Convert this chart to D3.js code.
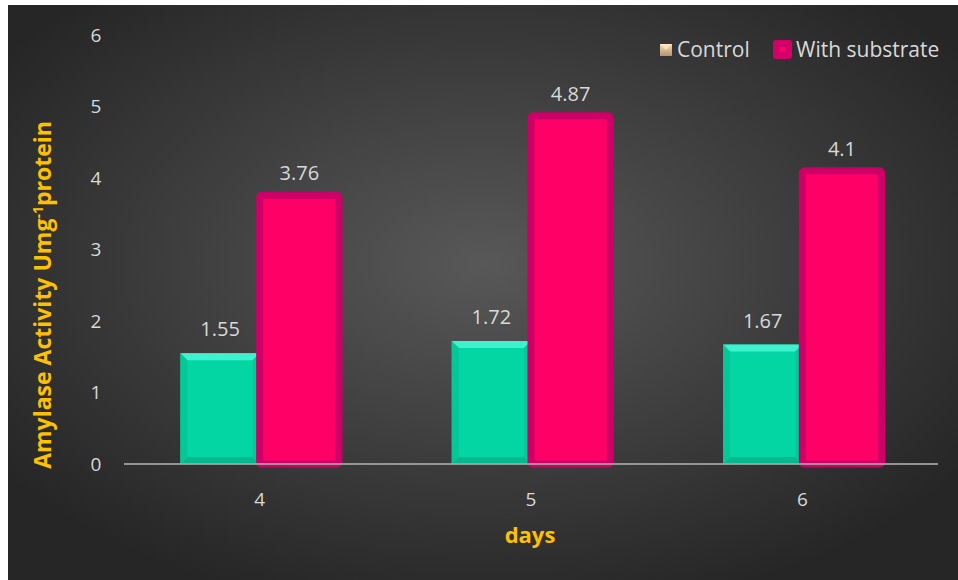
<!DOCTYPE html>
<html><head><meta charset="utf-8">
<script src="https://cdn.jsdelivr.net/npm/d3@7"></script>
<style>html,body{margin:0;padding:0;background:#fff;}svg{display:block;}</style>
</head><body>
<svg id="c" width="958" height="580"></svg>
<script>
const categories = ["4", "5", "6"];
const seriesNames = ["Control", "With substrate"];
const controlValues = [1.55, 1.72, 1.67];
const substrateValues = [3.76, 4.87, 4.1];
const yTicks = [0, 1, 2, 3, 4, 5, 6];

const W = 958, H = 580;
const svg = d3.select("#c");
const FONT = "'Open Sans', sans-serif";
const defs = svg.append("defs");
const rg = defs.append("radialGradient").attr("id","bg").attr("cx","50%").attr("cy","45%").attr("r","62%");
rg.append("stop").attr("offset","0%").attr("stop-color","#585858");
rg.append("stop").attr("offset","100%").attr("stop-color","#262626");
const lg = defs.append("linearGradient").attr("id","tan").attr("x1","0").attr("y1","0").attr("x2","0").attr("y2","1");
lg.append("stop").attr("offset","0%").attr("stop-color","#f2dcb8");
lg.append("stop").attr("offset","100%").attr("stop-color","#b8926a");

svg.append("rect").attr("x",8).attr("y",5).attr("width",W-8).attr("height",H-5).attr("fill","url(#bg)");

const x0 = d3.scaleBand().domain(categories).range([124, 938]).paddingInner(0).paddingOuter(0);
const x1 = d3.scaleBand().domain(seriesNames).range([0, x0.bandwidth()]).paddingInner(0).paddingOuter(0.712);
const y = d3.scaleLinear().domain([0, 6]).range([464, 35]);

// y tick labels
svg.append("g").selectAll("text").data(yTicks).join("text")
  .attr("x", 96).attr("y", d => y(d)).attr("dy","0.35em")
  .attr("text-anchor","middle").attr("fill","#d9d9d9")
  .style("font-family",FONT).style("font-size","19px").text(d => d);

// x tick labels
svg.append("g").selectAll("text").data(categories).join("text")
  .attr("x", d => x0(d) + x0.bandwidth()/2).attr("y", 499).attr("dy","0.35em")
  .attr("text-anchor","middle").attr("fill","#d9d9d9")
  .style("font-family",FONT).style("font-size","19px").text(d => d);

const rows = categories.map((c,i) => ({c, ctrl: controlValues[i], sub: substrateValues[i]}));

// control bars with bevel
const g = svg.append("g");
rows.forEach(r => {
  const bx = x0(r.c) + x1("Control"), bw = x1.bandwidth();
  const ty = y(r.ctrl), by = y(0), b = 7;
  g.append("rect").attr("x",bx).attr("y",ty).attr("width",bw).attr("height",by-ty).attr("fill","#04d6a3");
  g.append("polygon").attr("points",[[bx,ty],[bx+bw,ty],[bx+bw-b,ty+b],[bx+b,ty+b]].join(" ")).attr("fill","#3ff2cf");
  g.append("polygon").attr("points",[[bx,by],[bx+bw,by],[bx+bw-b,by-b],[bx+b,by-b]].join(" ")).attr("fill","#03b98d");
  g.append("polygon").attr("points",[[bx,ty],[bx+b,ty+b],[bx+b,by-b],[bx,by]].join(" ")).attr("fill","#05c898");
  g.append("polygon").attr("points",[[bx+bw,ty],[bx+bw-b,ty+b],[bx+bw-b,by-b],[bx+bw,by]].join(" ")).attr("fill","#05c898");
});
// substrate bars
rows.forEach(r => {
  const bx = x0(r.c) + x1("With substrate"), bw = x1.bandwidth();
  const ty = y(r.sub), by = y(0);
  g.append("rect").attr("x",bx).attr("y",ty).attr("width",bw).attr("height",by-ty)
    .attr("fill","#ff0066").attr("stroke","#cc0066").attr("stroke-width",7).attr("rx",2);
});

// axis line
svg.append("line").attr("x1",124).attr("x2",938).attr("y1",y(0)).attr("y2",y(0))
  .attr("stroke","#a6a6a6").attr("stroke-width",2).attr("opacity",0.85);

// value labels
rows.forEach(r => {
  svg.append("text").attr("x", x0(r.c)+x1("Control")+x1.bandwidth()/2).attr("y", y(r.ctrl)-17)
    .attr("text-anchor","middle").attr("fill","#d9d9d9").style("font-family",FONT).style("font-size","20px").text(r.ctrl);
  svg.append("text").attr("x", x0(r.c)+x1("With substrate")+x1.bandwidth()/2).attr("y", y(r.sub)-15)
    .attr("text-anchor","middle").attr("fill","#d9d9d9").style("font-family",FONT).style("font-size","20px").text(r.sub);
});

// axis titles
const yt = svg.append("text").attr("transform","translate(51,295) rotate(-90)")
  .attr("text-anchor","middle").attr("fill","#ffc000").style("font-family",FONT)
  .style("font-size","23px").style("font-weight","bold");
yt.append("tspan").text("Amylase Activity Umg");
yt.append("tspan").attr("dy",-8).style("font-size","14px").text("-1");
yt.append("tspan").attr("dy",8).text("protein");

svg.append("text").attr("x",530).attr("y",543).attr("text-anchor","middle").attr("fill","#ffc000")
  .style("font-family",FONT).style("font-size","22px").style("font-weight","bold").text("days");

// legend
const lgG = svg.append("g");
lgG.append("rect").attr("x",660).attr("y",44).attr("width",12).attr("height",12).attr("fill","url(#tan)");
lgG.append("polygon").attr("points","660,44 672,44 666,50").attr("fill","#ffeccc").attr("opacity",0.7);
lgG.append("text").attr("x",677).attr("y",50).attr("dy","0.35em").attr("fill","#d9d9d9")
  .style("font-family",FONT).style("font-size","21px").text(seriesNames[0]);
lgG.append("rect").attr("x",773).attr("y",40).attr("width",19).attr("height",19).attr("rx",3).attr("fill","#d4006a");
lgG.append("rect").attr("x",780).attr("y",47).attr("width",5).attr("height",5).attr("fill","#ff0066");
lgG.append("text").attr("x",796).attr("y",50).attr("dy","0.35em").attr("fill","#d9d9d9")
  .style("font-family",FONT).style("font-size","21px").text(seriesNames[1]);
</script>
</body></html>
